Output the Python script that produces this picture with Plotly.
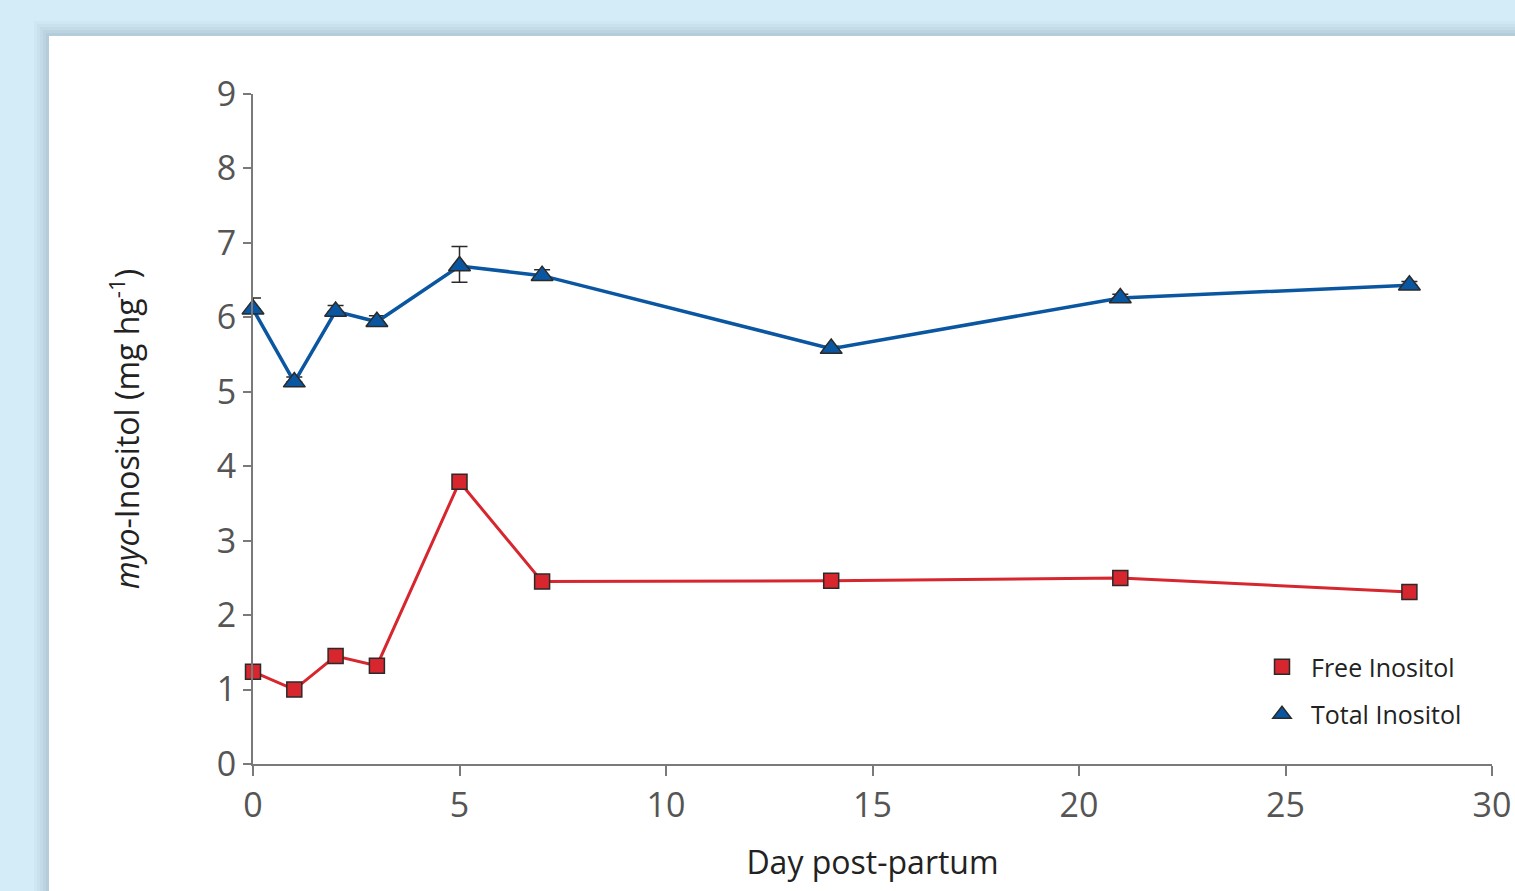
import plotly.graph_objects as go

days = [0, 1, 2, 3, 5, 7, 14, 21, 28]
free_inositol = [1.24, 1.00, 1.45, 1.32, 3.79, 2.45, 2.46, 2.50, 2.31]
total_inositol = [6.11, 5.13, 6.08, 5.94, 6.69, 6.56, 5.58, 6.26, 6.43]
total_err_plus = [0.15, 0.07, 0.08, 0.08, 0.26, 0.08, 0.03, 0.05, 0.05]
total_err_minus = [0.0, 0.0, 0.0, 0.0, 0.22, 0.0, 0.0, 0.0, 0.0]
x_ticks = [0, 5, 10, 15, 20, 25, 30]
y_ticks = [0, 1, 2, 3, 4, 5, 6, 7, 8, 9]

W, H = 1515, 891
L, R, T, B = 253, 23, 94, 127
pw, ph = W - L - R, H - T - B

def px(x):
    return (x - L) / pw

def py(y):
    return (H - B - y) / ph

RED = "#d7262e"
BLUE = "#0b56a0"
EDGE = "#2a2a2a"

fig = go.Figure()

fig.add_trace(go.Scatter(
    x=days, y=free_inositol, name="Free Inositol", mode="lines+markers",
    line=dict(color=RED, width=3),
    marker=dict(symbol="square", size=15, color=RED, line=dict(color=EDGE, width=1.5)),
    cliponaxis=False, showlegend=False,
))
fig.add_trace(go.Scatter(
    x=days, y=total_inositol, name="Total Inositol", mode="lines+markers",
    line=dict(color=BLUE, width=3.5),
    marker=dict(symbol="triangle-up", size=19, color=BLUE, line=dict(color=EDGE, width=1.5)),
    error_y=dict(type="data", symmetric=False, array=total_err_plus,
                 arrayminus=total_err_minus, color=EDGE, thickness=1.5, width=8),
    cliponaxis=False, showlegend=False,
))
# legend entries (markers only, as in the reference)
fig.add_trace(go.Scatter(
    x=[None], y=[None], name="Free Inositol", mode="markers", legendgroup="a",
    marker=dict(symbol="square", size=15, color=RED, line=dict(color=EDGE, width=1.5)),
))
fig.add_trace(go.Scatter(
    x=[None], y=[None], name="Total Inositol", mode="markers", legendgroup="b",
    marker=dict(symbol="triangle-up", size=19, color=BLUE, line=dict(color=EDGE, width=1.5)),
))

shapes = []
for i, a in enumerate([0.04, 0.05, 0.05, 0.06, 0.07]):
    d = 15 - i * 3
    shapes.append(dict(type="rect", xref="paper", yref="paper", layer="below",
                       x0=px(49 - d), x1=px(W + 20), y0=py(H + 20), y1=py(36 - d),
                       fillcolor=f"rgba(90,120,140,{a})", line=dict(width=0)))
shapes.append(dict(type="rect", xref="paper", yref="paper", layer="below",
                   x0=px(49), x1=px(W + 20), y0=py(H + 20), y1=py(36),
                   fillcolor="white", line=dict(width=0)))

fig.update_layout(
    width=W, height=H,
    margin=dict(l=L, r=R, t=T, b=B, autoexpand=False),
    paper_bgcolor="#d4ebf8",
    plot_bgcolor="rgba(0,0,0,0)",
    font=dict(family="Open Sans", color="#555555"),
    shapes=shapes,
    showlegend=True,
    legend=dict(x=px(1253), y=py(644), xanchor="left", yanchor="top",
                bgcolor="rgba(0,0,0,0)",
                font=dict(size=25, color="#222222", family="Open Sans"),
                tracegroupgap=12, itemwidth=48),
    xaxis=dict(range=[0, 30], tickvals=x_ticks, showgrid=False, zeroline=False,
               showline=True, linecolor="#7a7a7a", linewidth=2, automargin=False,
               ticks="outside", ticklen=10, tickwidth=2, tickcolor="#7a7a7a",
               tickfont=dict(size=34, color="#555555"),
               title=dict(text="Day post-partum", standoff=26,
                          font=dict(size=32, color="#222222"))),
    yaxis=dict(range=[0, 9], tickvals=y_ticks, showgrid=False, zeroline=False,
               showline=True, linecolor="#7a7a7a", linewidth=2, automargin=False,
               ticks="outside", ticklen=8, tickwidth=2, tickcolor="#7a7a7a",
               tickfont=dict(size=34, color="#555555"),
               title=dict(text="<i>myo</i>-Inositol (mg hg<sup>-1</sup>)", standoff=68,
                          font=dict(size=32, color="#222222"))),
)

fig.write_html("out.html", config={"displayModeBar": False},
               post_script="document.body.style.margin='0';document.body.style.overflow='hidden';")
